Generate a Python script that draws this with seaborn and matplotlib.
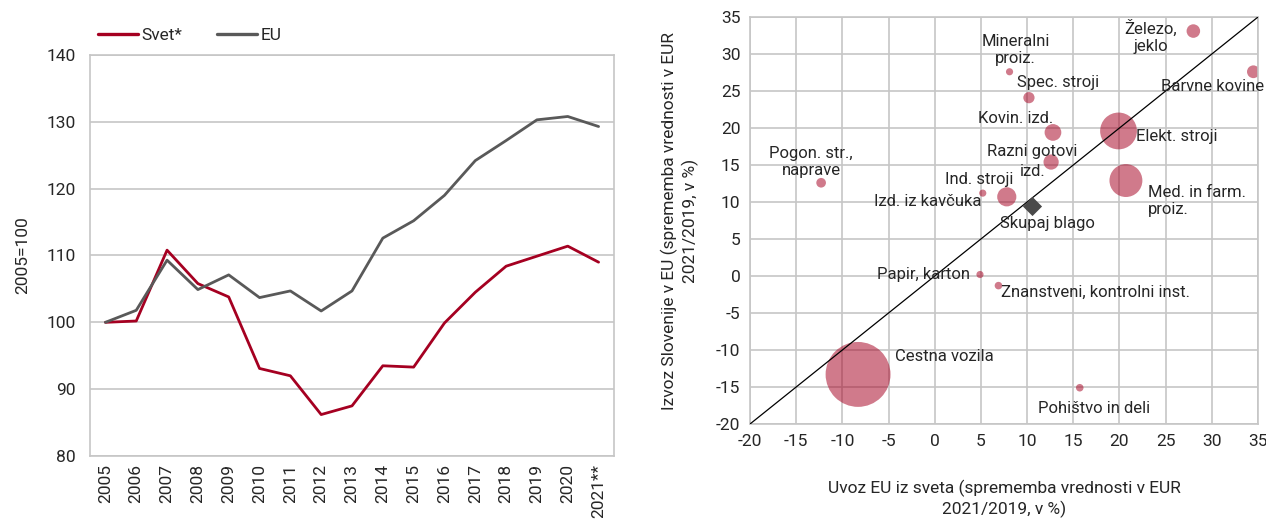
import numpy as np
import pandas as pd
import matplotlib
matplotlib.use("Agg")
import matplotlib.pyplot as plt
import seaborn as sns

# ---- left panel: export indices (2005=100) ----
leta = [2005, 2006, 2007, 2008, 2009, 2010, 2011, 2012, 2013, 2014,
        2015, 2016, 2017, 2018, 2019, 2020, 2021]
leta_oznake = ["2005", "2006", "2007", "2008", "2009", "2010", "2011", "2012",
               "2013", "2014", "2015", "2016", "2017", "2018", "2019", "2020",
               "2021**"]
svet = [100.0, 100.2, 110.8, 105.8, 103.8, 93.1, 92.0, 86.2, 87.5, 93.5,
        93.3, 99.9, 104.5, 108.4, 109.9, 111.4, 109.0]
eu = [100.0, 101.8, 109.3, 104.9, 107.1, 103.7, 104.7, 101.7, 104.7, 112.6,
      115.2, 119.0, 124.2, 127.2, 130.3, 130.8, 129.3]

# ---- right panel: product groups ----
skupine = ["Železo,\njeklo", "Barvne kovine", "Mineralni\nproiz.", "Spec. stroji",
           "Kovin. izd.", "Elekt. stroji", "Razni gotovi\nizd.",
           "Med. in farm.\nproiz.", "Pogon. str.,\nnaprave", "Ind. stroji",
           "Izd. iz kavčuka", "Papir, karton", "Znanstveni, kontrolni inst.",
           "Cestna vozila", "Pohištvo in deli"]
uvoz_eu = [28.0, 34.5, 8.1, 10.2, 12.8, 19.9, 12.6, 20.7, -12.3, 5.2,
           7.8, 4.9, 6.9, -8.3, 15.7]
izvoz_si = [33.1, 27.6, 27.6, 24.1, 19.4, 19.6, 15.4, 12.9, 12.6, 11.2,
            10.7, 0.2, -1.3, -13.3, -15.1]
delez = [0.61, 0.54, 0.17, 0.42, 0.93, 4.5, 0.77, 3.6, 0.31, 0.17,
         1.22, 0.17, 0.19, 14.0, 0.19]
skupaj_blago = (10.5, 9.4)

RED = "#A50021"
GREY = "#595959"
GRID = "#C6C6C6"

sns.set_theme(style="white")
plt.rcParams["font.family"] = ["Roboto", "DejaVu Sans"]
plt.rcParams["axes.unicode_minus"] = False

fig = plt.figure(figsize=(12.66, 5.19), dpi=100)
W, H = 1266, 519


def ax_rect(l, t, r, b):
    return [l / W, 1 - b / H, (r - l) / W, (b - t) / H]


# ---------------- left panel ----------------
ax1 = fig.add_axes(ax_rect(90, 55, 614, 456))
df = pd.DataFrame({
    "leto": leta * 2,
    "indeks": svet + eu,
    "serija": ["Svet*"] * len(leta) + ["EU"] * len(leta),
})
sns.lineplot(data=df, x="leto", y="indeks", hue="serija",
             palette={"Svet*": RED, "EU": GREY}, linewidth=2.0, ax=ax1)
ax1.set_xlim(2004.5, 2021.5)
ax1.set_ylim(80, 140)
ax1.set_yticks(range(80, 141, 10))
ax1.set_xticks(leta)
ax1.set_xticklabels(leta_oznake, rotation=90, fontsize=12.5)
ax1.tick_params(axis="y", labelsize=12.5, length=0, pad=10)
ax1.tick_params(axis="x", length=0, pad=6)
ax1.yaxis.grid(True, color=GRID, linewidth=1.2)
ax1.xaxis.grid(False)
for sp in ax1.spines.values():
    sp.set_color(GRID)
    sp.set_linewidth(1.2)
ax1.set_xlabel("")
ax1.set_ylabel("2005=100", fontsize=12.5, labelpad=12)
leg = ax1.legend(loc="lower left", bbox_to_anchor=(-0.005, 1.005), ncol=2,
                 frameon=False, fontsize=12.5, handlelength=2.3,
                 handletextpad=0.2, columnspacing=2.0, borderaxespad=0.2)
for ln in leg.get_lines():
    ln.set_linewidth(2.4)

# ---------------- right panel ----------------
ax2 = fig.add_axes(ax_rect(750, 17, 1258, 424))
ax2.set_xlim(-20, 35)
ax2.set_ylim(-20, 35)
ax2.set_xticks(range(-20, 36, 5))
ax2.set_yticks(range(-20, 36, 5))
ax2.grid(True, color=GRID, linewidth=1.2)
ax2.set_axisbelow(True)
for sp in ax2.spines.values():
    sp.set_color(GRID)
    sp.set_linewidth(1.2)
ax2.tick_params(length=0, labelsize=12.5, pad=7)

bub = pd.DataFrame({"uvoz": uvoz_eu, "izvoz": izvoz_si, "delez": delez,
                    "skupina": skupine})
c = 156.0  # marker area (pt^2) per unit of share
sns.scatterplot(data=bub, x="uvoz", y="izvoz", size="delez",
                sizes=(0, c * max(delez)), size_norm=(0, max(delez)),
                color=RED, alpha=0.52, linewidth=0, legend=False, ax=ax2,
                zorder=2)
ax2.scatter([skupaj_blago[0]], [skupaj_blago[1]], marker="D", s=95,
            color="#4A4A4A", zorder=4, linewidth=0)
ax2.plot([-20, 35], [-20, 35], color="black", linewidth=0.9, zorder=3)

fs = 12
labels = [
    ("Železo,\njeklo", 23.4, 32.3, "center"),
    ("Barvne kovine", 30.1, 25.6, "center"),
    ("Mineralni\nproiz.", 8.75, 30.5, "center"),
    ("Spec. stroji", 13.4, 26.2, "center"),
    ("Kovin. izd.", 8.8, 21.3, "center"),
    ("Elekt. stroji", 21.8, 18.9, "left"),
    ("Razni gotovi", 10.6, 16.8, "center"),
    ("izd.", 10.6, 14.1, "center"),
    ("Med. in farm.\nproiz.", 23.1, 10.1, "left"),
    ("Pogon. str.,\nnaprave", -13.4, 15.4, "center"),
    ("Ind. stroji", 4.8, 13.0, "center"),
    ("Izd. iz kavčuka", 5.1, 10.0, "right"),
    ("Skupaj blago", 12.25, 7.15, "center"),
    ("Papir, karton", 3.8, 0.2, "right"),
    ("Znanstveni, kontrolni inst.", 7.2, -2.2, "left"),
    ("Cestna vozila", -4.35, -10.85, "left"),
    ("Pohištvo in deli", 17.3, -17.9, "center"),
]
for txt, x, y, ha in labels:
    ax2.text(x, y, txt, ha=ha, va="center", fontsize=fs, zorder=5,
             linespacing=1.15, clip_on=False)

ax2.set_xlabel("Uvoz EU iz sveta (sprememba vrednosti v EUR\n2021/2019, v %)",
               fontsize=12.5, labelpad=22, linespacing=1.3)
ax2.set_ylabel("Izvoz Slovenije v EU (sprememba vrednosti v EUR\n2021/2019, v %)",
               fontsize=12.5, labelpad=12, linespacing=1.3)

fig.savefig("out.png", dpi=100)
